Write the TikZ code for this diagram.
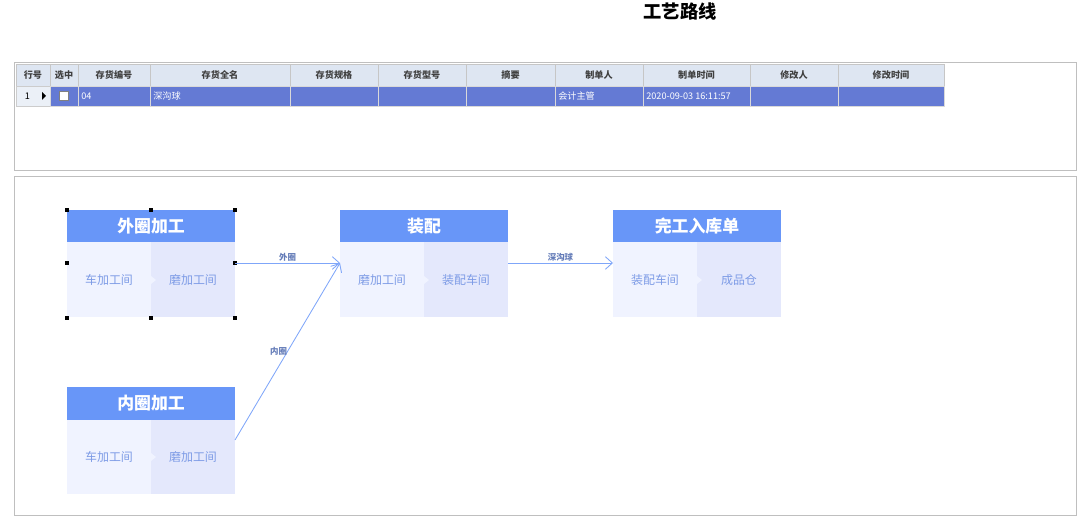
\documentclass[tikz,border=0pt]{standalone}
\usepackage{fontspec}
\setmainfont{Noto Sans CJK SC}
\usetikzlibrary{arrows.meta}
\definecolor{hdblue}{RGB}{104,150,248}
\definecolor{bodyA}{RGB}{240,243,255}
\definecolor{bodyB}{RGB}{228,232,252}
\definecolor{txtblue}{RGB}{125,155,230}
\definecolor{rowblue}{RGB}{100,122,212}
\definecolor{thead}{RGB}{222,230,242}
\begin{document}
\begin{tikzpicture}
    [x=0.025cm, y=-0.025cm,
    % table cells
    th/.style={draw=gray!45, fill=thead, inner sep=0, font=\fontsize{6.5}{7}\selectfont\bfseries, text=black!75},
    td/.style={draw=gray!30, fill=rowblue, inner sep=0, font=\fontsize{6.5}{7}\selectfont, text=white},
    % process boxes
    head/.style={fill=hdblue, text=white, inner sep=0, font=\fontsize{12}{14}\selectfont\bfseries},
    partA/.style={fill=bodyA, text=txtblue, inner sep=0, font=\fontsize{8.5}{10}\selectfont},
    partB/.style={fill=bodyB, text=txtblue, inner sep=0, font=\fontsize{8.5}{10}\selectfont},
    handle/.style={fill=black, inner sep=0, minimum size=3pt},
    link/.style={draw=hdblue!85, semithick, -{Straight Barb[length=5pt,width=9pt]}},
    linklabel/.style={text=txtblue!80!black, font=\fontsize{6}{7}\selectfont\bfseries, inner sep=1pt}]
    \useasboundingbox (0,0) rectangle (1084,518);
    \node [font=\fontsize{13}{15}\selectfont\bfseries] (title) at (680,12) {工艺路线};
    % panels
    \draw [gray!50] (14,62) rectangle (1076,170);
    \draw [gray!50] (14,176) rectangle (1076,515);
    % table header
    \foreach \a/\b/\t [count=\i] in {16/50/行号,50/78/选中,78/150/存货编号,150/290/存货全名,290/378/存货规格,378/466/存货型号,466/555/摘要,555/643/制单人,643/750/制单时间,750/838/修改人,838/944/修改时间}{
        \path [th] (\a,64) rectangle node (h\i) {\t} (\b,86);
    }
    % data row
    \path [draw=gray!40, fill=thead!60] (16,86) rectangle node [font=\fontsize{6.5}{7}\selectfont, xshift=-4pt] (r1) {1} (50,106);
    \fill (42,92) -- (46,96) -- (42,100) -- cycle;
    \path [td] (50,86) rectangle node (r2) {} (78,106);
    \draw [fill=white, draw=gray] (59,91) rectangle (68,100);
    \foreach \a/\b/\t [count=\i from 3] in {78/150/04,150/290/深沟球,290/378/,378/466/,466/555/,555/643/会计主管,643/750/2020-09-03 16:11:57,750/838/,838/944/}{
        \path [td] (\a,86) rectangle (\b,106);
        \node [td, draw=none, anchor=west] (r\i) at (\a+3,96) {\t};
    }
    % outer ring
    \path [head] (67,210) rectangle node (outerH) {外圈加工} (235,242);
    \path [partA] (67,242) rectangle node (outerA) {车加工间} (151,317);
    \path [partB] (151,242) rectangle node (outerB) {磨加工间} (235,317);
    % inner ring
    \path [head] (67,387) rectangle node (innerH) {内圈加工} (235,420);
    \path [partA] (67,420) rectangle node (innerA) {车加工间} (151,494);
    \path [partB] (151,420) rectangle node (innerB) {磨加工间} (235,494);
    % assembly
    \path [head] (340,210) rectangle node (asmH) {装配} (508,242);
    \path [partA] (340,242) rectangle node (asmA) {磨加工间} (424,317);
    \path [partB] (424,242) rectangle node (asmB) {装配车间} (508,317);
    % finished goods
    \path [head] (613,210) rectangle node (finH) {完工入库单} (781,242);
    \path [partA] (613,242) rectangle node (finA) {装配车间} (697,317);
    \path [partB] (697,242) rectangle node (finB) {成品仓} (781,317);
    % small chevrons between halves
    \foreach \s/\y in {151/280,424/280,697/280,151/457}
        \fill [bodyA] (\s,\y-4) -- (\s+5,\y) -- (\s,\y+4) -- cycle;
    % ports
    \coordinate (outerOut) at (235,263);
    \coordinate (innerOut) at (235,440);
    \coordinate (asmIn) at (340,263);
    \coordinate (asmOut) at (508,263);
    \coordinate (finIn) at (613,263);
    % selection handles
    \foreach \p in {(67,210),(151,210),(235,210),(67,263),(235,263),(67,318),(151,318),(235,318)}
        \node [handle] at \p {};
    % connectors
    \draw [link] (outerOut) -- node [linklabel, above] (l1) {外圈} (asmIn);
    \draw [link] (innerOut) -- node [linklabel, pos=0.5, left=-1pt] (l2) {内圈} (asmIn);
    \draw [link] (asmOut) -- node [linklabel, above] (l3) {深沟球} (finIn);
\end{tikzpicture}
\end{document}
